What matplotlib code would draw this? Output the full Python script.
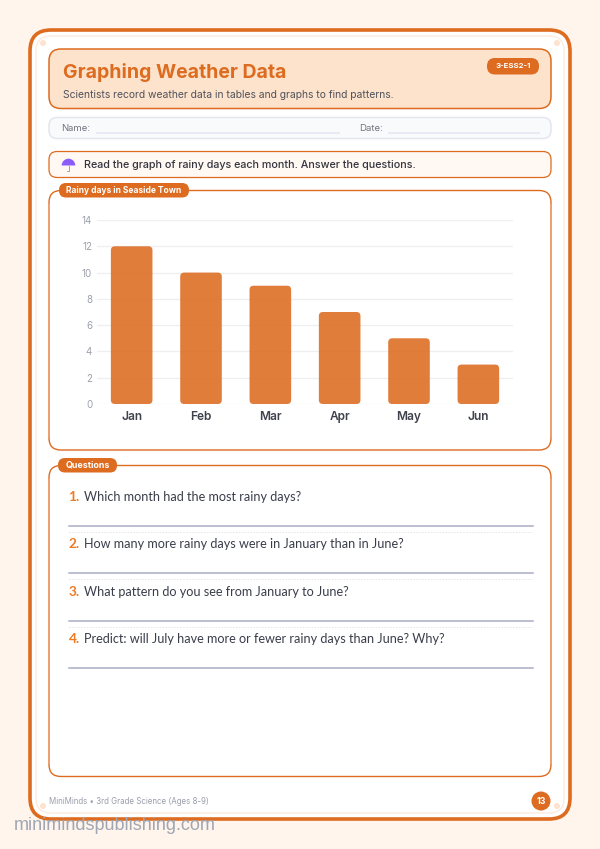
import matplotlib
matplotlib.use('Agg')
from matplotlib import pyplot as plt
from matplotlib.patches import FancyBboxPatch, Circle, Wedge

months = ['Jan', 'Feb', 'Mar', 'Apr', 'May', 'Jun']
rainy_days = [12, 10, 9, 7, 5, 3]
y_ticks = [0, 2, 4, 6, 8, 10, 12, 14]
questions = ['Which month had the most rainy days?',
             'How many more rainy days were in January than in June?',
             'What pattern do you see from January to June?',
             'Predict: will July have more or fewer rainy days than June? Why?']
question_y = [501, 548.5, 596, 643]
line_y = [525.5, 573, 620.7, 667.5]
dotted_y = [531.7, 579, 627]

ORANGE = '#DD6B20'
LIGHT = '#EFA271'
HEAD = 'Inter'
BODY = 'Lato'

fig = plt.figure(figsize=(6, 8.49), dpi=100, facecolor='#FFF5EC')

# page is drawn in pixel coordinates
page = fig.add_axes([0, 0, 1, 1])
page.set_xlim(0, 600)
page.set_ylim(849, 0)
page.axis('off')


def box(x0, y0, x1, y1, r, fc, ec, lw=1.0, z=1):
    p = FancyBboxPatch((x0, y0), x1 - x0, y1 - y0, boxstyle='round,pad=0,rounding_size=%s' % r,
                       fc=fc, ec=ec, lw=lw, zorder=z)
    page.add_patch(p)


box(30, 30, 570, 819, 21, 'white', ORANGE, 2.6)
box(36, 36, 564, 813, 15, 'white', '#FDEBDD', 1.0)
for cx, cy in [(43, 43), (557, 43), (43, 806), (557, 806)]:
    page.add_patch(Circle((cx, cy), 3, fc='#FDE3CF', ec='none', zorder=2))

# header
box(49, 49, 551, 108.5, 12, '#FDE3CC', ORANGE, 1.1)
page.text(63, 72.5, 'Graphing Weather Data', family=HEAD, weight='bold', fontsize=14.0, color=ORANGE, va='center')
page.text(63, 94.5, 'Scientists record weather data in tables and graphs to find patterns.',
          family=HEAD, fontsize=7.45, color='#50525C', va='center')
box(487, 58, 539, 74.5, 8, ORANGE, 'none')
page.text(513, 66, '3-ESS2-1', family=HEAD, weight='bold', fontsize=5.6, color='white', va='center', ha='center', zorder=3)

# name row
box(49, 117.5, 551, 138.5, 8, '#F8FAFC', '#E2E6EF', 1.1)
page.text(61, 128, 'Name:', family=HEAD, fontsize=6.8, color='#70747F', va='center')
page.text(359, 128, 'Date:', family=HEAD, fontsize=6.9, color='#70747F', va='center')
page.plot([97, 339], [132.8, 132.8], color='#E2E6EF', lw=1.1, zorder=3)
page.plot([389, 539], [132.8, 132.8], color='#E2E6EF', lw=1.1, zorder=3)

# instruction row with umbrella
box(49, 151.5, 551, 177.5, 8, '#FFF8F3', ORANGE, 0.9)
page.add_patch(Wedge((68.5, 165.5), 6.8, 180, 360, fc='#8B5CF6', ec='none', zorder=3))
page.plot([68.5, 68.5, 67], [165.5, 170.5, 170.5], color='#9A8BB8', lw=0.6, zorder=3)
page.text(84, 164.5, 'Read the graph of rainy days each month. Answer the questions.',
          family=HEAD, weight='medium', fontsize=7.73, color='#33343D', va='center')

# chart and question panels, the long sides are lighter
for y0, y1 in [(190.5, 450), (465.5, 776.5)]:
    box(49, y0, 551, y1, 12, 'white', ORANGE, 1.0)
    page.plot([49, 49], [y0 + 14, y1 - 14], color=LIGHT, lw=1.4, zorder=2)
    page.plot([551, 551], [y0 + 14, y1 - 14], color=LIGHT, lw=1.4, zorder=2)
box(59, 183, 189, 197.5, 7, ORANGE, 'none', z=3)
page.text(124, 190.2, 'Rainy days in Seaside Town', family=HEAD, weight='bold', fontsize=6.1,
          color='white', va='center', ha='center', zorder=4)
box(58, 458, 117, 472.5, 7, ORANGE, 'none', z=3)
page.text(87.5, 465.2, 'Questions', family=HEAD, weight='bold', fontsize=6.4,
          color='white', va='center', ha='center', zorder=4)

# questions
for i in range(len(questions)):
    page.text(68.5, question_y[i], '%d.' % (i + 1), family=BODY, weight='bold', fontsize=9.8, color='#EE7A22', va='baseline')
    page.text(84, question_y[i], questions[i], family=BODY, fontsize=9.1, color='#3A3D4A', va='baseline')
    page.plot([69, 533], [line_y[i], line_y[i]], color='#A9AEC6', lw=1.1, zorder=3)
for y in dotted_y:
    page.plot([69, 533], [y, y], color='#E4E6EC', lw=0.7, ls=(0, (1.5, 1.5)), zorder=2)

# footer
page.text(49, 801.5, 'MiniMinds \u2022 3rd Grade Science (Ages 8-9)', family=HEAD, fontsize=5.7, color='#9A9EAA', va='center')
page.add_patch(Circle((541, 801), 9.5, fc=ORANGE, ec='none', zorder=3))
page.text(541, 801, '13', family=HEAD, weight='bold', fontsize=6.3, color='white', va='center', ha='center', zorder=4)
page.text(14, 825, 'minimindspublishing.com', family='Liberation Sans', fontsize=13.0, color='#A0A6B3', va='center', zorder=6)

# bar chart
ax = fig.add_axes([97 / 600, 1 - 404 / 849, 416 / 600, 184 / 849])
ax.patch.set_alpha(0)
ax.set_xlim(-0.5, 5.5)
ax.set_ylim(0, 14)
ax.set_yticks(y_ticks)
ax.set_xticks(range(len(months)))
ax.set_xticklabels(months, family=HEAD, weight='semibold', fontsize=8.6, color='#3F414C')
ax.set_yticklabels(y_ticks, family=HEAD, fontsize=7, color='#9CA0AB')
ax.tick_params(length=0)
ax.tick_params(axis='x', pad=5)
ax.tick_params(axis='y', pad=3.5)
ax.grid(axis='y', color='#EDEFF2', lw=0.9)
ax.set_axisbelow(True)
for s in ax.spines.values():
    s.set_visible(False)

# 69.33 px per month and 13.14 px per day, aspect keeps the corners round
width = 0.6
for i, v in enumerate(rainy_days):
    ax.add_patch(FancyBboxPatch((i - width / 2, 0), width, v, boxstyle='round,pad=0,rounding_size=0.058',
                                mutation_aspect=69.33 / 13.14, fc=ORANGE, alpha=0.88, ec='none', zorder=3))

fig.savefig('out.png', dpi=100, facecolor=fig.get_facecolor())
